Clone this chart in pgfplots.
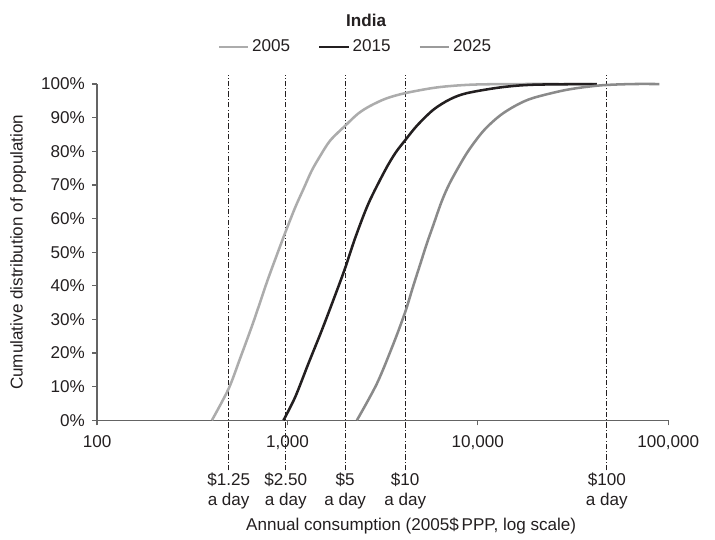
\documentclass[border=0pt]{standalone}
\usepackage{pgfplots}
\pgfplotsset{compat=1.18}
\usepackage{fontspec}
\setmainfont{Liberation Sans}
\definecolor{cA}{RGB}{172,172,172}
\definecolor{cB}{RGB}{35,31,32}
\definecolor{cC}{RGB}{138,138,138}
\definecolor{axc}{RGB}{100,100,100}
\definecolor{txt}{RGB}{35,31,32}
\newcommand{\fs}{\fontsize{12.8}{15}\selectfont}
\begin{document}
\fs
\begin{tikzpicture}
\begin{axis}[
  xmode=log,
  scale only axis,
  width=428pt, height=252pt,
  xmin=100, xmax=100000,
  ymin=0, ymax=100,
  clip=false,
  axis lines*=left,
  axis line style={axc, line width=1.1pt},
  every tick/.style={axc, line width=0.9pt},
  tick align=outside,
  major tick length=3.75pt,
  xminorticks=false,
  xtick={100,1000,10000,100000},
  xticklabels={100,{1,000},{10,000},{100,000}},
  ytick={0,10,...,100},
  yticklabel={\pgfmathprintnumber{\tick}\%},
  /pgf/number format/assume math mode=true,
  tick label style={font=\fs, text=txt},
  xticklabel style={anchor=base, yshift=-17pt},
  yticklabel style={xshift=-1pt},
  xlabel={Annual consumption (2005\$\,PPP, log scale)},
  ylabel={Cumulative distribution of population},
  xlabel style={at={(rel axis cs:0.55,-0.327)}, anchor=base, font=\fs, text=txt},
  ylabel style={at={(rel axis cs:-0.138,0.5)}, anchor=center, font=\fs, text=txt},
  legend columns=3,
  legend style={draw=none, fill=none, at={(rel axis cs:0.453,1.11)}, anchor=center,
    font=\fs, text=txt,
    /tikz/every even column/.append style={column sep=19pt}},
  legend image code/.code={\draw[#1, line width=1.8pt] (0pt,0pt) -- (22pt,0pt);},
]
% dash-dot reference lines
\pgfplotsinvokeforeach{491,981,2010,4155,47600}{
  \addplot[forget plot, txt, line width=0.7pt, dash pattern=on 4pt off 1.6pt on 0.8pt off 1.6pt]
    coordinates {(#1,-14.9) (#1,102.7)};
}
\addplot[cA, line width=1.9pt, smooth] coordinates {
(401,0) (491,9.4) (564,18.4) (663,29.3) (779,41.0) (880,49.2) (981,56.3) (1100,63.4) (1214,68.8) (1340,74.2) (1485,78.6) (1677,83.2) (2010,87.6) (2350,91.2) (2720,93.5) (3300,95.7) (4155,97.3) (6098,99) (9120,99.8) (15000,100) (40000,100)
};
\addlegendentry{2005}
\addplot[cB, line width=1.9pt, smooth] coordinates {
(953,0) (1098,6.9) (1289,16.9) (1516,26.8) (1781,37.2) (2010,45.3) (2268,54.2) (2665,64.5) (3262,74.4) (3700,79.6) (4155,83.3) (4786,87.6) (5851,92.4) (7161,95.5) (8766,97.3) (13120,99) (19620,99.8) (42250,100)
};
\addlegendentry{2015}
\addplot[cC, line width=1.9pt, smooth, forget plot] coordinates {
(2316,0) (2950,10.9) (3606,22.8) (4155,32.2) (4560,39.6) (4981,46.4) (5400,52.6) (5851,58.2) (6450,65.0) (7161,70.8) (8766,79.5) (10715,86.1) (13120,90.7) (16056,93.8) (19620,95.9) (29390,98.3) (43970,99.6) (65000,100) (90000,100)
};
\addlegendimage{cA!90!black, line width=1.8pt}
\addlegendentry{2025}
% labels for reference lines
\foreach \xv/\lab in {491/{\$1.25}, 981/{\$2.50}, 2010/{\$5}, 4155/{\$10}, 47600/{\$100}}{
  \edef\tmp{\noexpand\node[anchor=base, inner sep=0pt, font=\noexpand\fs, text=txt] at (axis cs:\xv,-19.35) {\lab};
    \noexpand\node[anchor=base, inner sep=0pt, font=\noexpand\fs, text=txt] at (axis cs:\xv,-25.3) {a day};}
  \tmp
}
\node[font=\bfseries\fs, text=txt] at (rel axis cs:0.471,1.19) {India};
\path (rel axis cs:-0.17,1.25) (rel axis cs:1.082,-0.351);
\end{axis}
\end{tikzpicture}
\end{document}
